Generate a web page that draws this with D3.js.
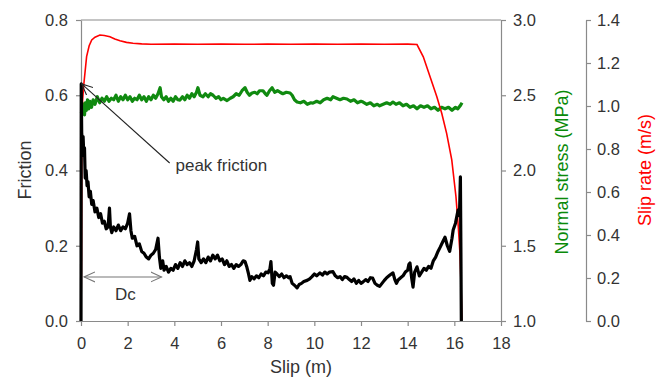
<!DOCTYPE html>
<html>
<head>
<meta charset="utf-8">
<script src="https://cdn.jsdelivr.net/npm/d3@7"></script>
<style>
  body { margin: 0; background: #fff; }
  svg { font-family: "Liberation Sans", Arial, sans-serif; }
</style>
</head>
<body>
<svg id="chart-svg"></svg>
<script>
// friction (black, left axis) : [slip m, friction]
const frictionData = [
  [0, 0], [0.01, 0.63], [0.03, 0.5], [0.06, 0.47], [0.09, 0.49], [0.12, 0.44], [0.15, 0.46], [0.18, 0.38],
  [0.22, 0.40], [0.26, 0.36], [0.30, 0.37], [0.35, 0.33], [0.40, 0.345], [0.46, 0.31], [0.52, 0.32], [0.6, 0.29],
  [0.68, 0.30], [0.76, 0.275], [0.84, 0.285], [0.92, 0.26], [1.0, 0.265], [1.08, 0.245], [1.16, 0.25], [1.22, 0.30],
  [1.26, 0.25], [1.32, 0.235], [1.4, 0.25], [1.5, 0.24], [1.6, 0.255], [1.7, 0.24], [1.8, 0.25], [1.9, 0.245],
  [2.0, 0.26], [2.08, 0.285], [2.14, 0.24], [2.2, 0.22], [2.3, 0.225], [2.4, 0.2], [2.5, 0.205], [2.6, 0.185],
  [2.7, 0.18], [2.8, 0.17], [2.9, 0.165], [3.0, 0.175], [3.1, 0.18], [3.2, 0.19], [3.3, 0.22], [3.36, 0.17],
  [3.42, 0.14], [3.5, 0.16], [3.56, 0.135], [3.65, 0.145], [3.75, 0.13], [3.85, 0.14], [3.95, 0.135], [4.05, 0.15],
  [4.15, 0.14], [4.25, 0.155], [4.35, 0.145], [4.45, 0.16], [4.55, 0.15], [4.65, 0.155], [4.75, 0.145], [4.85, 0.16],
  [4.95, 0.19], [5.0, 0.21], [5.05, 0.165], [5.15, 0.155], [5.25, 0.165], [5.35, 0.155], [5.45, 0.17], [5.55, 0.16],
  [5.65, 0.175], [5.75, 0.165], [5.85, 0.175], [5.95, 0.16], [6.05, 0.165], [6.15, 0.15], [6.25, 0.16], [6.35, 0.145],
  [6.45, 0.15], [6.55, 0.14], [6.65, 0.15], [6.75, 0.145], [6.85, 0.15], [6.95, 0.16], [7.03, 0.158], [7.1, 0.145],
  [7.18, 0.125], [7.24, 0.108], [7.32, 0.118], [7.42, 0.112], [7.52, 0.12], [7.62, 0.115], [7.72, 0.125], [7.82, 0.12],
  [7.92, 0.13], [8.02, 0.128], [8.1, 0.14], [8.14, 0.158], [8.2, 0.1], [8.25, 0.095], [8.32, 0.13], [8.4, 0.125],
  [8.5, 0.118], [8.6, 0.125], [8.7, 0.115], [8.8, 0.12], [8.9, 0.115], [8.96, 0.118], [9.05, 0.1], [9.15, 0.095],
  [9.26, 0.088], [9.35, 0.097], [9.45, 0.1], [9.55, 0.105], [9.69, 0.108], [9.8, 0.112], [9.9, 0.118], [10.0, 0.125],
  [10.1, 0.12], [10.24, 0.128], [10.35, 0.122], [10.45, 0.13], [10.55, 0.125], [10.65, 0.13], [10.8, 0.131], [10.9, 0.12],
  [11.0, 0.115], [11.1, 0.118], [11.2, 0.11], [11.3, 0.118], [11.4, 0.116], [11.5, 0.11], [11.6, 0.105], [11.7, 0.112],
  [11.8, 0.1], [11.9, 0.108], [12.0, 0.1], [12.09, 0.104], [12.2, 0.11], [12.3, 0.105], [12.4, 0.115], [12.5, 0.114],
  [12.6, 0.1], [12.7, 0.095], [12.8, 0.092], [12.9, 0.1], [13.0, 0.108], [13.1, 0.115], [13.2, 0.12], [13.3, 0.125],
  [13.37, 0.128], [13.45, 0.11], [13.52, 0.1], [13.59, 0.109], [13.7, 0.115], [13.8, 0.12], [13.9, 0.13], [14.0, 0.135],
  [14.05, 0.15], [14.1, 0.154], [14.17, 0.115], [14.23, 0.09], [14.3, 0.13], [14.4, 0.144], [14.5, 0.12], [14.6, 0.13],
  [14.7, 0.14], [14.8, 0.135], [14.9, 0.145], [15.0, 0.14], [15.1, 0.16], [15.2, 0.17], [15.3, 0.185], [15.4, 0.197],
  [15.5, 0.21], [15.6, 0.223], [15.7, 0.2], [15.8, 0.185], [15.9, 0.22], [15.95, 0.242], [16.05, 0.26], [16.16, 0.295],
  [16.22, 0.28], [16.26, 0.383], [16.28, 0.2], [16.3, 0.0]
];

// normal stress (green, first right axis) : [slip m, MPa]
const stressData = [
  [0.02, 2.38], [0.05, 2.45], [0.08, 2.39], [0.11, 2.44], [0.15, 2.37], [0.19, 2.45], [0.23, 2.40], [0.28, 2.47],
  [0.33, 2.41], [0.38, 2.46], [0.45, 2.42], [0.52, 2.47], [0.6, 2.44], [0.7, 2.49], [0.8, 2.45], [0.9, 2.48],
  [1.0, 2.46], [1.1, 2.49], [1.2, 2.46], [1.3, 2.48], [1.4, 2.47], [1.5, 2.50], [1.6, 2.46], [1.7, 2.49],
  [1.8, 2.47], [1.9, 2.50], [2.0, 2.47], [2.1, 2.49], [2.2, 2.46], [2.3, 2.48], [2.4, 2.47], [2.5, 2.50],
  [2.6, 2.47], [2.7, 2.49], [2.8, 2.46], [2.9, 2.49], [3.0, 2.47], [3.1, 2.50], [3.2, 2.48], [3.3, 2.51],
  [3.39, 2.55], [3.45, 2.49], [3.55, 2.47], [3.65, 2.49], [3.75, 2.46], [3.85, 2.48], [3.95, 2.46], [4.05, 2.49],
  [4.15, 2.47], [4.24, 2.468], [4.35, 2.49], [4.45, 2.47], [4.55, 2.50], [4.65, 2.48], [4.75, 2.51], [4.85, 2.49],
  [4.95, 2.52], [5.01, 2.55], [5.1, 2.50], [5.23, 2.49], [5.33, 2.51], [5.45, 2.49], [5.55, 2.51], [5.66, 2.50],
  [5.78, 2.48], [5.9, 2.49], [6.0, 2.47], [6.1, 2.48], [6.26, 2.465], [6.4, 2.48], [6.52, 2.49], [6.65, 2.51],
  [6.78, 2.50], [6.9, 2.53], [7.03, 2.55], [7.12, 2.52], [7.22, 2.50], [7.33, 2.515], [7.45, 2.52], [7.55, 2.51],
  [7.65, 2.53], [7.8, 2.53], [7.9, 2.51], [7.97, 2.50], [8.08, 2.53], [8.19, 2.55], [8.3, 2.52], [8.42, 2.53],
  [8.53, 2.52], [8.65, 2.51], [8.8, 2.52], [8.96, 2.515], [9.05, 2.50], [9.15, 2.47], [9.26, 2.455], [9.4, 2.45],
  [9.55, 2.46], [9.7, 2.44], [9.85, 2.45], [9.94, 2.448], [10.1, 2.46], [10.25, 2.45], [10.4, 2.47], [10.55, 2.48],
  [10.7, 2.47], [10.8, 2.49], [10.95, 2.48], [11.1, 2.47], [11.25, 2.48], [11.4, 2.475], [11.55, 2.46], [11.7, 2.47],
  [11.85, 2.45], [12.0, 2.46], [12.09, 2.455], [12.25, 2.44], [12.4, 2.45], [12.55, 2.43], [12.7, 2.44], [12.8, 2.43],
  [12.95, 2.44], [13.1, 2.45], [13.25, 2.44], [13.37, 2.455], [13.5, 2.44], [13.65, 2.45], [13.8, 2.43], [13.95, 2.44],
  [14.1, 2.42], [14.25, 2.43], [14.4, 2.41], [14.55, 2.43], [14.7, 2.42], [14.85, 2.43], [15.0, 2.41], [15.15, 2.42],
  [15.3, 2.40], [15.45, 2.42], [15.6, 2.41], [15.75, 2.42], [15.9, 2.40], [16.05, 2.42], [16.15, 2.41], [16.25, 2.43],
  [16.33, 2.45]
];

// slip rate (red, second right axis) : [slip m, m/s]
const rateData = [
  [0, 0], [0.02, 0.3], [0.03, 0.7], [0.05, 1.0], [0.12, 1.1], [0.24, 1.23], [0.35, 1.28], [0.46, 1.307],
  [0.6, 1.32], [0.81, 1.33], [1.0, 1.328], [1.24, 1.322], [1.45, 1.312], [1.67, 1.303], [1.95, 1.296], [2.23, 1.292],
  [2.6, 1.289], [3.0, 1.287], [4.0, 1.288], [5.0, 1.287], [6.0, 1.288], [7.0, 1.287], [8.0, 1.288], [9.0, 1.287],
  [10.0, 1.288], [11.0, 1.287], [12.0, 1.288], [13.0, 1.287], [14.0, 1.288], [14.4, 1.286], [14.67, 1.229], [14.96, 1.136],
  [15.25, 1.043], [15.46, 0.966], [15.67, 0.873], [15.89, 0.749], [16.07, 0.578], [16.17, 0.439], [16.24, 0.316], [16.29, 0.16],
  [16.32, 0.005]
];

const slipTicks = [0, 2, 4, 6, 8, 10, 12, 14, 16, 18];
const frictionTicks = [0, 0.2, 0.4, 0.6, 0.8];
const stressTicks = [1.0, 1.5, 2.0, 2.5, 3.0];
const rateTicks = [0, 0.2, 0.4, 0.6, 0.8, 1.0, 1.2, 1.4];

// annotations, in data units
const peakArrow = {from: [3.8, 0.42], to: [0.03, 0.63], label: 'peak friction', labelAt: [4.05, 0.4]};
const dcArrow = {from: 0.13, to: 3.45, y: 0.117, label: 'Dc', labelAt: [1.9, 0.055]};

const width = 661, height = 378;
const margin = {left: 81, right: 160, top: 20, bottom: 57};
const axisColor = '#8a8a8a';
const textColor = '#333';

const svg = d3.select('#chart-svg')
    .attr('width', width)
    .attr('height', height);

const x = d3.scaleLinear().domain([0, 18]).range([margin.left, width - margin.right]);
const yF = d3.scaleLinear().domain([0, 0.8]).range([height - margin.bottom, margin.top]);
const yS = d3.scaleLinear().domain([1.0, 3.0]).range([height - margin.bottom, margin.top]);
const yR = d3.scaleLinear().domain([0, 1.4]).range([height - margin.bottom, margin.top]);

const rateAxisX = 586;

function styleAxis(g) {
    g.select('.domain').attr('stroke', axisColor).attr('stroke-width', 1.2);
    g.selectAll('.tick line').attr('stroke', axisColor).attr('stroke-width', 1.2);
    g.selectAll('.tick text').attr('fill', textColor).style('font-size', '16.5px');
}

// top border of the frame
svg.append('line')
    .attr('x1', x(0)).attr('x2', x(18))
    .attr('y1', yF(0.8)).attr('y2', yF(0.8))
    .attr('stroke', axisColor)
    .attr('stroke-width', 1.2);

// x axis
svg.append('g')
    .attr('transform', 'translate(0,' + yF(0) + ')')
    .call(d3.axisBottom(x).tickValues(slipTicks).tickFormat(d3.format('d')).tickSize(5).tickSizeOuter(0).tickPadding(11))
    .call(styleAxis);

// left axis (friction)
svg.append('g')
    .attr('transform', 'translate(' + x(0) + ',0)')
    .call(d3.axisLeft(yF).tickValues(frictionTicks).tickFormat(d3.format('.1f')).tickSize(5).tickSizeOuter(0).tickPadding(8))
    .call(styleAxis);

// right axis (normal stress)
svg.append('g')
    .attr('transform', 'translate(' + x(18) + ',0)')
    .call(d3.axisRight(yS).tickValues(stressTicks).tickFormat(d3.format('.1f')).tickSize(5).tickSizeOuter(0).tickPadding(7))
    .call(styleAxis);

// second right axis (slip rate)
svg.append('g')
    .attr('transform', 'translate(' + rateAxisX + ',0)')
    .call(d3.axisRight(yR).tickValues(rateTicks).tickFormat(d3.format('.1f')).tickSize(5).tickSizeOuter(0).tickPadding(6))
    .call(styleAxis);

// axis titles
svg.append('text')
    .attr('transform', 'translate(31,170) rotate(-90)')
    .attr('text-anchor', 'middle')
    .style('font-size', '18px')
    .attr('fill', textColor)
    .text('Friction');

svg.append('text')
    .attr('x', 301)
    .attr('y', 373)
    .attr('text-anchor', 'middle')
    .style('font-size', '18px')
    .attr('fill', textColor)
    .text('Slip (m)');

svg.append('text')
    .attr('transform', 'translate(568,172) rotate(-90)')
    .attr('text-anchor', 'middle')
    .style('font-size', '18px')
    .attr('fill', '#0a8a0a')
    .text('Normal stress (MPa)');

svg.append('text')
    .attr('transform', 'translate(651,170) rotate(-90)')
    .attr('text-anchor', 'middle')
    .style('font-size', '18px')
    .attr('fill', '#ff0000')
    .text('Slip rate (m/s)');

// the three curves
const lineF = d3.line().x(d => x(d[0])).y(d => yF(d[1]));
const lineS = d3.line().x(d => x(d[0])).y(d => yS(d[1]));
const lineR = d3.line().x(d => x(d[0])).y(d => yR(d[1]));

svg.append('path')
    .datum(stressData)
    .attr('fill', 'none')
    .attr('stroke', '#108a10')
    .attr('stroke-width', 3.2)
    .attr('stroke-linejoin', 'round')
    .attr('d', lineS);

svg.append('path')
    .datum(rateData)
    .attr('fill', 'none')
    .attr('stroke', '#ff0000')
    .attr('stroke-width', 1.6)
    .attr('d', lineR);

svg.append('path')
    .datum(frictionData)
    .attr('fill', 'none')
    .attr('stroke', '#000')
    .attr('stroke-width', 3.2)
    .attr('stroke-linejoin', 'round')
    .attr('d', lineF);

// open arrow heads
const defs = svg.append('defs');
function addHead(id, color) {
    defs.append('marker')
        .attr('id', id)
        .attr('viewBox', '0 0 12 12')
        .attr('refX', 11).attr('refY', 6)
        .attr('markerWidth', 12).attr('markerHeight', 12)
        .attr('markerUnits', 'userSpaceOnUse')
        .attr('orient', 'auto-start-reverse')
        .append('path')
        .attr('d', 'M0,1 L11,6 L0,11')
        .attr('fill', 'none')
        .attr('stroke', color)
        .attr('stroke-width', 1.1);
}
addHead('head-black', '#222');
addHead('head-gray', '#777');

// peak friction arrow
svg.append('line')
    .attr('x1', x(peakArrow.from[0])).attr('y1', yF(peakArrow.from[1]))
    .attr('x2', x(peakArrow.to[0])).attr('y2', yF(peakArrow.to[1]))
    .attr('stroke', '#222')
    .attr('stroke-width', 1.1)
    .attr('marker-end', 'url(#head-black)');

svg.append('text')
    .attr('x', x(peakArrow.labelAt[0]))
    .attr('y', yF(peakArrow.labelAt[1]))
    .style('font-size', '17px')
    .attr('fill', textColor)
    .text(peakArrow.label);

// Dc arrow
svg.append('line')
    .attr('x1', x(dcArrow.from)).attr('y1', yF(dcArrow.y))
    .attr('x2', x(dcArrow.to)).attr('y2', yF(dcArrow.y))
    .attr('stroke', '#777')
    .attr('stroke-width', 1.1)
    .attr('marker-start', 'url(#head-gray)')
    .attr('marker-end', 'url(#head-gray)');

svg.append('text')
    .attr('x', x(dcArrow.labelAt[0]))
    .attr('y', yF(dcArrow.labelAt[1]))
    .attr('text-anchor', 'middle')
    .style('font-size', '17px')
    .attr('fill', textColor)
    .text(dcArrow.label);
</script>
</body>
</html>
